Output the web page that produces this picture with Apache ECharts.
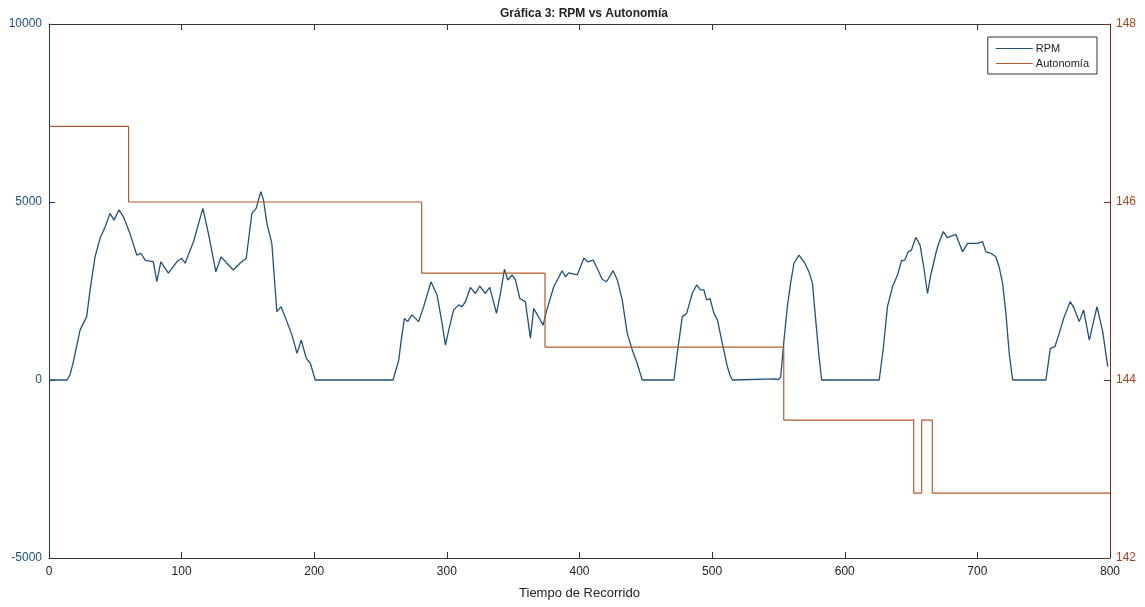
<!DOCTYPE html>
<html>
<head>
<meta charset="utf-8">
<script src="https://cdn.jsdelivr.net/npm/echarts@6/dist/echarts.min.js"></script>
<style>
html,body{margin:0;padding:0;background:#fff;}
#chart{width:1145px;height:607px;}
</style>
</head>
<body>
<div id="chart"></div>
<script>
// ---- Data ----
const titleText = 'Gráfica 3: RPM vs Autonomía';
const xAxisName = 'Tiempo de Recorrido';
const seriesNames = ['RPM', 'Autonomía'];

const rpmTime = [0,13.6,15.8,18.4,23.4,28.4,31,34.7,38.5,42.3,46,49,52.8,56,61,66.2,69.2,72.5,78.7,81.3,84.3,90,96.4,100,102.6,109,116,120.2,125.8,129.8,136.6,139,144,148.7,153,156.2,159.7,161.7,164.3,168,171.8,175,179.4,183.2,187,190.2,194,197,200.8,259.4,263.7,265.5,268,270.4,273.7,278.7,282.5,288,292.6,296.4,298.9,301.4,305.1,308.9,311.5,314,317.7,321.5,324.8,329,332.3,337.4,340.4,343.4,345.9,349.2,351.7,355,359.2,363,365.5,372.6,375,380.6,386.9,389.4,391.9,398.3,403.3,406.3,410.3,413.3,417.1,420.4,425.4,428.5,432.2,436,439.8,443.5,447.3,471.2,473.7,477.5,480.8,485,488.3,491.3,493.8,495.8,498.4,501.4,504,507.7,511.5,513.4,515.3,548,549.7,551.7,554.2,556.7,559.2,561.7,565.5,569.3,573,575.6,578.1,580.6,582.6,626,629.2,632.2,636,639.8,642.8,645.3,647.8,650.3,653.6,656.8,659.9,662.4,664.9,668.7,670.5,674.3,677.3,683.8,688.8,692.6,697.6,700,703.9,706.4,710.2,713.9,716.4,719,721.5,724,726.6,751.7,755,758.5,761.7,765.5,770,773,776.8,780.1,784.4,790.2,794.5,798.3];
const rpmValue = [0,0,140,515,1400,1780,2530,3460,3980,4300,4680,4490,4780,4590,4120,3510,3560,3370,3320,2760,3320,3000,3320,3420,3280,3890,4820,4120,3040,3460,3180,3090,3280,3420,4680,4820,5290,5060,4400,3840,1920,2060,1640,1260,750,1120,610,470,0,0,560,1100,1730,1640,1830,1640,2060,2760,2390,1590,980,1400,1970,2110,2060,2200,2600,2430,2640,2430,2600,1870,2430,3110,2810,2950,2810,2290,2200,1170,2010,1540,1920,2620,3070,2900,3010,2950,3420,3320,3370,3140,2830,2760,3070,2810,2250,1310,840,470,0,0,750,1780,1870,2430,2670,2530,2530,2250,2290,1870,1690,1030,375,140,0,30,0,90,1120,2060,2720,3280,3510,3320,3040,2720,1690,660,0,0,940,2060,2620,2950,3350,3370,3600,3650,4010,3790,3090,2430,2950,3560,3800,4170,4000,4090,3600,3840,3840,3840,3890,3600,3560,3460,3180,2720,1870,750,0,0,890,940,1310,1780,2200,2010,1640,1970,1120,2060,1360,375];

const autTime = [0,60,281,374,554,652,658,666,800];
const autValue = [146.85,146.0,145.2,144.37,143.55,142.73,143.55,142.73,142.73];

const xTicks = {min:0, max:800, interval:100};
const yLeftTicks = {min:-5000, max:10000, interval:5000};
const yRightTicks = {min:142, max:148, interval:2};

// ---- Chart ----
const rpmData = rpmTime.map((t,i)=>[t, rpmValue[i]]);
const autData = autTime.map((t,i)=>[t, autValue[i]]);

const FONT = '"Liberation Sans", Arial, sans-serif';
const BLUE_LINE = '#22507a';
const BLUE_TXT = '#1d4f7c';
const ORANGE_LINE = '#b65a2c';
const ORANGE_TXT = '#a8431d';
const plain = v => String(v);

const chart = echarts.init(document.getElementById('chart'), null, {renderer:'canvas'});
chart.setOption({
  animation:false,
  backgroundColor:'#fff',
  title:{
    text:titleText, left:579, top:3, textAlign:'center',
    textStyle:{fontFamily:FONT, fontSize:12, fontWeight:'bold', color:'#222'}
  },
  grid:{left:49, right:35, top:24, bottom:49, containLabel:false},
  legend:{
    orient:'vertical', right:48, top:37,
    data:seriesNames,
    icon:'rect', itemWidth:37, itemHeight:1,
    itemGap:4,
    backgroundColor:'#fff', borderColor:'#333', borderWidth:1,
    padding:[6,8,5,8],
    textStyle:{fontFamily:FONT, fontSize:11, color:'#222', padding:[0,0,0,-2]}
  },
  xAxis:[{
    type:'value', min:xTicks.min, max:xTicks.max, interval:xTicks.interval,
    position:'bottom',
    name:xAxisName, nameLocation:'middle', nameGap:29,
    nameTextStyle:{fontFamily:FONT, fontSize:13, color:'#222'},
    axisLine:{onZero:false, lineStyle:{color:'#333', width:1}},
    axisTick:{inside:true, length:6, lineStyle:{color:'#333'}},
    axisLabel:{fontFamily:FONT, fontSize:12, color:'#222', margin:8, formatter:plain},
    splitLine:{show:false}
  },{
    type:'value', min:xTicks.min, max:xTicks.max, interval:xTicks.interval,
    position:'top',
    axisLine:{show:true, onZero:false, lineStyle:{color:'#333', width:1}},
    axisTick:{inside:true, length:6, lineStyle:{color:'#333'}},
    axisLabel:{show:false},
    splitLine:{show:false}
  }],
  yAxis:[{
    type:'value', min:yLeftTicks.min, max:yLeftTicks.max, interval:yLeftTicks.interval,
    position:'left',
    axisLine:{show:true, onZero:false, lineStyle:{color:'#1a3c5e', width:1}},
    axisTick:{show:true, inside:true, length:6, lineStyle:{color:'#1a3c5e'}},
    axisLabel:{fontFamily:FONT, fontSize:12, color:BLUE_TXT, margin:7, formatter:plain},
    splitLine:{show:false}
  },{
    type:'value', min:yRightTicks.min, max:yRightTicks.max, interval:yRightTicks.interval,
    position:'right',
    axisLine:{show:true, onZero:false, lineStyle:{color:'#6b3318', width:1}},
    axisTick:{show:true, inside:true, length:6, lineStyle:{color:'#6b3318'}},
    axisLabel:{fontFamily:FONT, fontSize:12, color:ORANGE_TXT, margin:6, formatter:plain},
    splitLine:{show:false}
  }],
  series:[{
    name:seriesNames[0], type:'line', xAxisIndex:0, yAxisIndex:0,
    data:rpmData, showSymbol:false, symbol:'none',
    lineStyle:{color:BLUE_LINE, width:1.3},
    itemStyle:{color:BLUE_LINE}
  },{
    name:seriesNames[1], type:'line', xAxisIndex:0, yAxisIndex:1,
    data:autData, step:'end', showSymbol:false, symbol:'none',
    lineStyle:{color:ORANGE_LINE, width:1.2},
    itemStyle:{color:ORANGE_LINE}
  }]
});
</script>
</body>
</html>
